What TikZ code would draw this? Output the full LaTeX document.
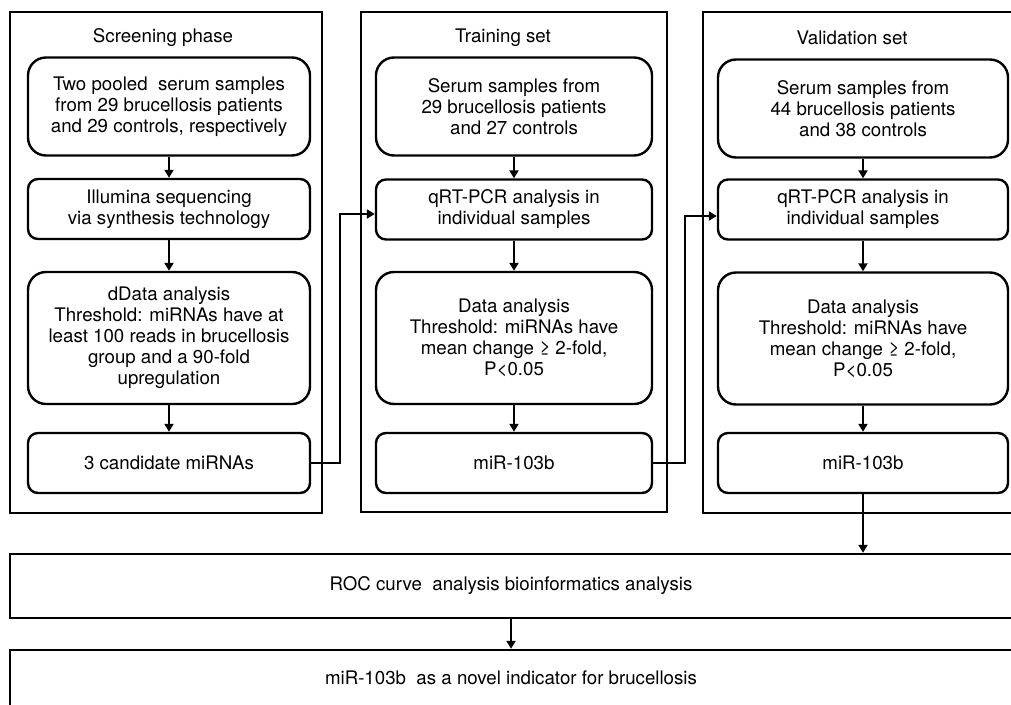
\documentclass[tikz,border=0pt]{standalone}
\usepackage{fontspec}
\setmainfont{TeX Gyre Heros}
\usetikzlibrary{arrows.meta}

\begin{document}
\begin{tikzpicture}[x=1pt,y=-1pt,
    font=\fontsize{18.7}{21}\selectfont,
    panel/.style={draw,line width=2.4pt},
    stage/.style={draw,line width=2.4pt,align=center,inner sep=0pt,rounded corners=18pt},
    tallstage/.style={stage,minimum height=98pt},
    thinstage/.style={stage,minimum height=60pt,rounded corners=10pt},
    datastage/.style={stage,minimum height=132pt},
    widebox/.style={draw,line width=2.4pt,minimum width=1002pt,minimum height=64pt,inner sep=0pt},
    arr/.style={line width=2.4pt,-{Triangle[width=9pt,length=8pt]}}]
      \useasboundingbox (0,0) rectangle (1011,704);
      \clip (0,0) rectangle (1011,704);
      % three phases
      \draw[panel] (10,12) rectangle (322,513);
      \draw[panel] (361,12) rectangle (667,512);
      \draw[panel] (703,12) rectangle (1022,513);
      \node (t1) at (163,38) {Screening phase};
      \node (t2) at (503,38) {Training set};
      \node (t3) at (852,38) {Validation set};
      % screening phase
      \node[tallstage,minimum width=282pt] (a1) at (169,106.5) {Two pooled~ serum samples\\from 29 brucellosis patients\\and 29 controls, respectively};
      \node[thinstage,minimum width=282pt] (b1) at (169,209) {Illumina sequencing\\via synthesis technology};
      \node[datastage,minimum width=282pt] (c1) at (169,338) {dData analysis\\Threshold: miRNAs have at\\least 100 reads in brucellosis\\group and a 90-fold\\upregulation};
      \node[thinstage,minimum width=282pt] (d1) at (169,463) {3 candidate miRNAs};
      % training set
      \node[tallstage,minimum width=276pt] (a2) at (514,106.5) {Serum samples from\\29 brucellosis patients\\and 27 controls};
      \node[thinstage,minimum width=276pt] (b2) at (514,209.5) {qRT-PCR analysis in\\individual samples};
      \node[datastage,minimum width=276pt] (c2) at (514,338) {Data analysis\\Threshold: miRNAs have\\mean change ≥ 2-fold,\\P<0.05};
      \node[thinstage,minimum width=276pt] (d2) at (514,463) {miR-103b};
      % validation set
      \node[tallstage,minimum width=290pt] (a3) at (863,108.5) {Serum samples from\\44 brucellosis patients\\and 38 controls};
      \node[thinstage,minimum width=290pt] (b3) at (863,209.5) {qRT-PCR analysis in\\individual samples};
      \node[datastage,minimum width=290pt] (c3) at (863,338.5) {Data analysis\\Threshold: miRNAs have\\mean change ≥ 2-fold,\\P<0.05};
      \node[thinstage,minimum width=290pt] (d3) at (863,463) {miR-103b};
      % final steps
      \node[widebox] (roc) at (511,586) {ROC curve~ analysis bioinformatics analysis};
      \node[widebox,minimum height=56pt] (final) at (511,678) {miR-103b~ as a novel indicator for brucellosis};
      \foreach \i in {1,2,3} {
        \path[arr] (a\i) edge (b\i);
        \path[arr] (b\i) edge (c\i);
        \path[arr] (c\i) edge (d\i);
      }
      \coordinate (j1) at (340,214);
      \coordinate (j2) at (685,216);
      \draw[arr] (d1.east) -| (j1) -- (j1 -| b2.west);
      \draw[arr] (d2.east) -| (j2) -- (j2 -| b3.west);
      \draw[arr] (d3.south) -- (d3.south |- roc.north);
      \path[arr] (roc) edge (final);
    \end{tikzpicture}
\end{document}
